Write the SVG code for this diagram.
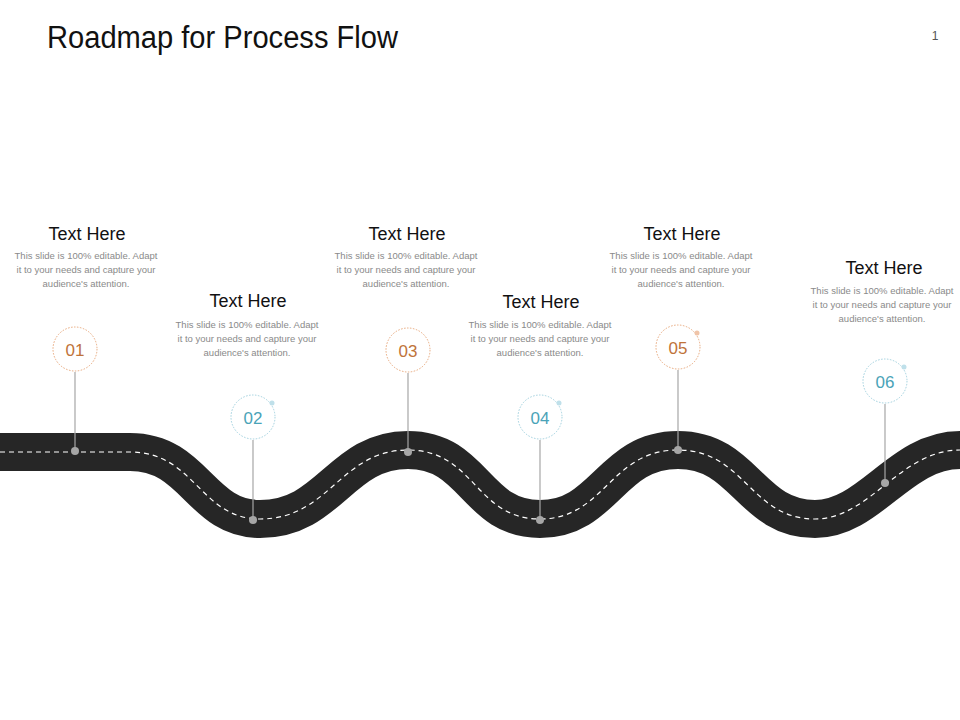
<svg xmlns="http://www.w3.org/2000/svg" width="960" height="720" viewBox="0 0 960 720">
<style>
.t{font-family:"Liberation Sans",Arial,sans-serif;font-size:18px;fill:#111;text-anchor:middle}
.b{font-family:"Liberation Sans",Arial,sans-serif;font-size:9.5px;fill:#8a8a8a;text-anchor:middle}
.n{font-family:"Liberation Sans",Arial,sans-serif;font-size:17px;text-anchor:middle}
.ring{fill:#fff;stroke-width:1;stroke-dasharray:1.5 1.5}
.stem{stroke:#a6a6a6;stroke-width:1.2}
.dot{fill:#a6a6a6}
</style>
<rect width="960" height="720" fill="#fff"/>
<text x="47" y="48" font-family="Liberation Sans,Arial,sans-serif" font-size="31" fill="#111" textLength="351" lengthAdjust="spacingAndGlyphs">Roadmap for Process Flow</text>
<text x="935" y="40" font-family="Liberation Sans,Arial,sans-serif" font-size="12" fill="#555" text-anchor="middle">1</text>
<g id="road">
<path d="M0,452 L130,452 C195,452 200,519 260,519 C330,519 340,450 408,450 C475,450 475,519 540,519 C605,519 610,450 678,450 C745,450 750,519 815,519 C870,519 900,450 960,450" fill="none" stroke="#262626" stroke-width="38"/>
<path d="M0,452 L130,452 C195,452 200,519 260,519 C330,519 340,450 408,450 C475,450 475,519 540,519 C605,519 610,450 678,450 C745,450 750,519 815,519 C870,519 900,450 960,450" fill="none" stroke="#fff" stroke-width="1.2" stroke-dasharray="5 4"/>
</g>
<g id="connectors">
<line class="stem" x1="75" y1="372" x2="75" y2="451"/>
<line class="stem" x1="253" y1="440" x2="253" y2="520"/>
<line class="stem" x1="408" y1="373" x2="408" y2="452"/>
<line class="stem" x1="540" y1="440" x2="540" y2="520"/>
<line class="stem" x1="678" y1="370" x2="678" y2="450"/>
<line class="stem" x1="885" y1="404" x2="885" y2="483"/>
<circle class="dot" cx="75" cy="451" r="4"/>
<circle class="dot" cx="253" cy="520" r="4"/>
<circle class="dot" cx="408" cy="452" r="4"/>
<circle class="dot" cx="540" cy="520" r="4"/>
<circle class="dot" cx="678" cy="450" r="4"/>
<circle class="dot" cx="885" cy="483" r="4"/>
</g>
<g id="step1">
<text class="t" x="87" y="240">Text Here</text>
<text class="b" x="86" y="259" textLength="143">This slide is 100% editable. Adapt</text>
<text class="b" x="86" y="273">it to your needs and capture your</text>
<text class="b" x="86" y="287">audience's attention.</text>
<circle class="ring" cx="75" cy="349" r="22" stroke="#e8a77a"/>
<text class="n" x="75" y="356" fill="#c0733a">01</text>
</g>
<g id="step2">
<text class="t" x="248" y="307">Text Here</text>
<text class="b" x="247" y="328" textLength="143">This slide is 100% editable. Adapt</text>
<text class="b" x="247" y="342">it to your needs and capture your</text>
<text class="b" x="247" y="356">audience's attention.</text>
<circle class="ring" cx="253" cy="417" r="22" stroke="#9fd0de"/>
<circle cx="272" cy="403" r="2.5" fill="#bfe0ea"/>
<text class="n" x="253" y="424" fill="#4aa3b8">02</text>
</g>
<g id="step3">
<text class="t" x="407" y="240">Text Here</text>
<text class="b" x="406" y="259" textLength="143">This slide is 100% editable. Adapt</text>
<text class="b" x="406" y="273">it to your needs and capture your</text>
<text class="b" x="406" y="287">audience's attention.</text>
<circle class="ring" cx="408" cy="350" r="22" stroke="#e8a77a"/>
<text class="n" x="408" y="357" fill="#c0733a">03</text>
</g>
<g id="step4">
<text class="t" x="541" y="308">Text Here</text>
<text class="b" x="540" y="328" textLength="143">This slide is 100% editable. Adapt</text>
<text class="b" x="540" y="342">it to your needs and capture your</text>
<text class="b" x="540" y="356">audience's attention.</text>
<circle class="ring" cx="540" cy="417" r="22" stroke="#9fd0de"/>
<circle cx="559" cy="403" r="2.5" fill="#bfe0ea"/>
<text class="n" x="540" y="424" fill="#4aa3b8">04</text>
</g>
<g id="step5">
<text class="t" x="682" y="240">Text Here</text>
<text class="b" x="681" y="259" textLength="143">This slide is 100% editable. Adapt</text>
<text class="b" x="681" y="273">it to your needs and capture your</text>
<text class="b" x="681" y="287">audience's attention.</text>
<circle class="ring" cx="678" cy="347" r="22" stroke="#e8a77a"/>
<circle cx="697" cy="333" r="2.5" fill="#f0c4a8"/>
<text class="n" x="678" y="354" fill="#c0733a">05</text>
</g>
<g id="step6">
<text class="t" x="884" y="274">Text Here</text>
<text class="b" x="882" y="294" textLength="143">This slide is 100% editable. Adapt</text>
<text class="b" x="882" y="308">it to your needs and capture your</text>
<text class="b" x="882" y="322">audience's attention.</text>
<circle class="ring" cx="885" cy="381" r="22" stroke="#9fd0de"/>
<circle cx="904" cy="367" r="2.5" fill="#bfe0ea"/>
<text class="n" x="885" y="388" fill="#4aa3b8">06</text>
</g>
</svg>
